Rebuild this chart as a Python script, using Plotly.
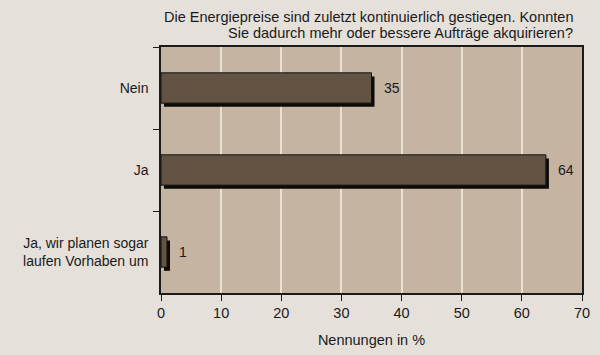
import plotly.graph_objects as go

categories = ["Nein", "Ja", "Ja, wir planen sogar<br>laufen Vorhaben um"]
values = [35, 64, 1]
value_labels = ["35", "64", "1"]
x_ticks = [0, 10, 20, 30, 40, 50, 60, 70]
title_lines = ["Die Energiepreise sind zuletzt kontinuierlich gestiegen. Konnten",
               "Sie dadurch mehr oder bessere Aufträge akquirieren?"]
x_title = "Nennungen in %"

FONT = "Liberation Sans, Arial, sans-serif"
BAR_W = 0.37
SHADOW_DX = 0.5     # axis units (~3px)
SHADOW_DY = 0.045   # category units (~4px)

fig = go.Figure()
# shadow
fig.add_trace(go.Bar(
    y=categories, x=values, base=[SHADOW_DX] * len(values), orientation="h",
    width=BAR_W, offset=-BAR_W / 2 + SHADOW_DY,
    marker=dict(color="#0d0b08", line=dict(width=0)),
    hoverinfo="skip", showlegend=False,
))
# main bars
fig.add_trace(go.Bar(
    y=categories, x=values, orientation="h",
    width=BAR_W, offset=-BAR_W / 2,
    marker=dict(color="#625342", line=dict(color="#15120e", width=1)),
    showlegend=False,
))

for c, v, t in zip(categories, values, value_labels):
    fig.add_annotation(x=v, y=c, text=t, showarrow=False, xanchor="left",
                       xshift=10, font=dict(family=FONT, size=14, color="#1a1a1a"))

for i, line in enumerate(title_lines):
    fig.add_annotation(xref="paper", yref="paper", x=0.983, y=1, yshift=30 - 16 * i,
                       xanchor="right", yanchor="middle", align="right",
                       text=line, showarrow=False,
                       font=dict(family=FONT, size=14.5, color="#1a1a1a"))

fig.update_layout(
    width=600, height=355,
    margin=dict(l=161, r=18, t=47, b=62, autoexpand=False),
    paper_bgcolor="#e5e1da",
    plot_bgcolor="#c4b4a1",
    barmode="overlay",
    font=dict(family=FONT, size=14, color="#1a1a1a"),
    xaxis=dict(range=[0, 70], tickvals=x_ticks, ticks="outside", ticklen=6,
               tickcolor="#1a1a1a", showline=True, linecolor="#1a1a1a", linewidth=1.5,
               mirror=True, showgrid=True, gridcolor="#e9e1d3", gridwidth=1.5,
               zeroline=False, automargin=False,
               title=dict(text=x_title, standoff=15, font=dict(size=14.5)),
               tickfont=dict(size=14.5)),
    yaxis=dict(autorange="reversed", type="category", tickson="boundaries",
               ticks="outside", ticklen=6, tickcolor="#1a1a1a", automargin=False,
               showline=True, linecolor="#1a1a1a", linewidth=1.5, mirror=True,
               showgrid=False, ticklabelstandoff=8, tickfont=dict(size=14)),
)

fig.write_html("out.html", config={"displayModeBar": False},
               post_script="document.body.style.margin='0';")
